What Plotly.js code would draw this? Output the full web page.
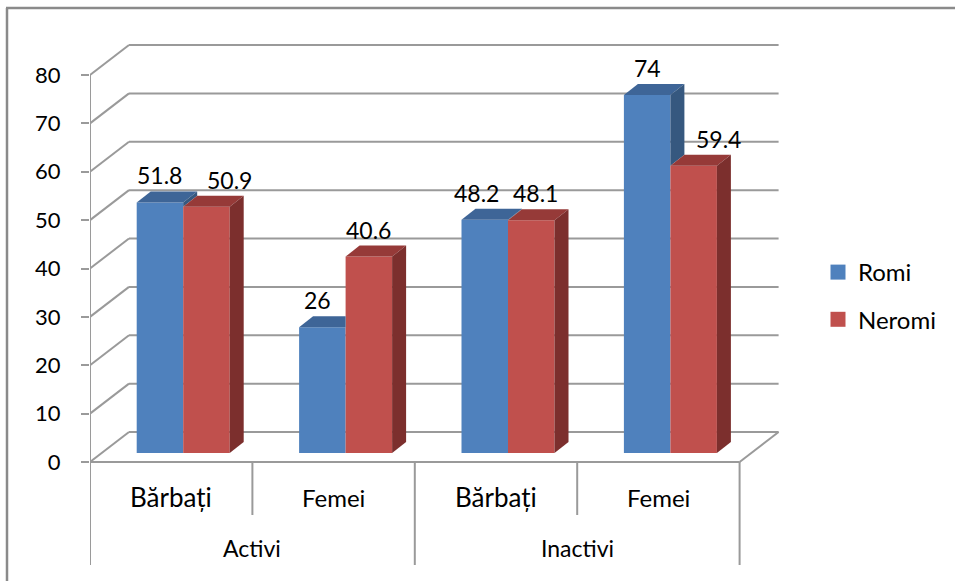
<!DOCTYPE html>
<html><head><meta charset="utf-8">
<script src="https://cdn.plot.ly/plotly-3.0.1.min.js"></script>
<style>html,body{margin:0;padding:0;background:#fff}#chart{width:955px;height:581px}</style>
</head><body><div id="chart"></div>
<script>
// ---------- DATA ----------
const groups = ['Activi', 'Inactivi'];
const subcats = ['Bărbați', 'Femei', 'Bărbați', 'Femei'];
const seriesNames = ['Romi', 'Neromi'];
const romi = [51.8, 26, 48.2, 74];
const neromi = [50.9, 40.6, 48.1, 59.4];
const yTicks = [0, 10, 20, 30, 40, 50, 60, 70, 80];

// ---------- STYLE / GEOMETRY (pixels) ----------
const W = 955, H = 581, L = 90, R = 155, T = 40, B = 0;
const PX = 162.4, PY = 4.8375, Y0 = 462;      // px per category, px per unit, zero pixel
const WALL = {dx: 39, dy: 30};                // depth of the 3D box
const PLANE = {dx: 12, dy: 9};                // where bars stand inside the box
const DEPTH = {dx: 14, dy: 11};               // depth of each bar
const BARW = 46.5;                            // bar width px
const FONT = 'Lato, "Open Sans", sans-serif';
const GRID = '#9a9a9a';
const colors = {
  front: ['#4F81BD', '#C0504D'],
  top:   ['#3e6597', '#963a38'],
  side:  ['#36587f', '#7c2f2d']
};
const labelShift = [[0, 23], [-5, 0], [-8, 4], [0, 25]];
const subcatSize = [26, 24, 26, 24];

const ux = p => p / PX, uy = p => p / PY;
const nCat = subcats.length;
const xMax = (W - L - R) / PX;
const yMin = -(H - B - Y0) / PY, yMax = (Y0 - T) / PY;
const toPaperX = px => (px - L) / (W - L - R);
const toPaperY = py => (H - B - py) / (H - T - B);

const base = uy(PLANE.dy);
const bw = ux(BARW);
const ddx = ux(DEPTH.dx), ddy = uy(DEPTH.dy);
const series = [romi, neromi];
const centers = subcats.map((_, i) => i + 0.5 + ux(PLANE.dx));

const traces = [];
// front faces as bars
series.forEach((vals, s) => {
  traces.push({
    type: 'bar', name: seriesNames[s], x: centers, y: vals, base: base,
    width: bw, offset: s === 0 ? -bw : 0,
    marker: {color: colors.front[s], line: {width: 0}},
    showlegend: false, hoverinfo: 'skip'
  });
});
// top and side faces
function poly(pts, color) {
  traces.push({
    type: 'scatter', mode: 'lines', x: pts.map(p => p[0]).concat([pts[0][0]]),
    y: pts.map(p => p[1]).concat([pts[0][1]]), fill: 'toself', fillcolor: color,
    line: {width: 0, color: color}, showlegend: false, hoverinfo: 'skip'
  });
}
for (let i = 0; i < nCat; i++) {
  const xm = centers[i];
  const bt = base + romi[i], rt = base + neromi[i];
  const bl = xm - bw, br = xm;
  if (bt >= rt) {
    poly([[bl, bt], [br, bt], [br + ddx, bt + ddy], [bl + ddx, bt + ddy]], colors.top[0]);
    poly([[br, rt], [br, bt], [br + ddx, bt + ddy], [br + ddx, rt + ddy]], colors.side[0]);
  } else {
    poly([[bl, bt], [br, bt], [br, bt + ddy], [bl + ddx, bt + ddy]], colors.top[0]);
  }
  const rl = xm, rr = xm + bw;
  poly([[rl, rt], [rr, rt], [rr + ddx, rt + ddy], [rl + ddx, rt + ddy]], colors.top[1]);
  poly([[rr, base], [rr, rt], [rr + ddx, rt + ddy], [rr + ddx, base + ddy]], colors.side[1]);
}
// legend entries
seriesNames.forEach((n, s) => {
  traces.push({
    type: 'scatter', mode: 'markers', x: [null], y: [null], name: n,
    legendgroup: 'g' + s,
    marker: {symbol: 'square', size: 15, color: colors.front[s]}
  });
});

// ---------- SHAPES ----------
const shapes = [];
const wx = ux(WALL.dx), wy = uy(WALL.dy);
const line = (x0, y0, x1, y1, color, width, xref, yref) => shapes.push({
  type: 'line', x0, y0, x1, y1, xref: xref || 'x', yref: yref || 'y', layer: 'below',
  line: {color: color || GRID, width: width || 2}
});
yTicks.forEach(v => {
  line(0, v, wx, v + wy);
  line(wx, v + wy, nCat + wx, v + wy);
});
line(0, 0, nCat, 0);
line(nCat, 0, nCat + wx, wy);
line(0, 0, 0, yTicks[yTicks.length - 1]);
for (let i = 0; i <= nCat; i++) {
  const deep = (i % 2 === 0);
  line(i, 0, i, deep ? -uy(103) : -uy(53));
}
line(toPaperX(7), toPaperY(8), toPaperX(7), toPaperY(600), '#8a8a8a', 2.5, 'paper', 'paper');
line(toPaperX(6), toPaperY(8), toPaperX(970), toPaperY(8), '#8a8a8a', 2.5, 'paper', 'paper');

// ---------- ANNOTATIONS ----------
const annotations = [];
series.forEach((vals, s) => {
  vals.forEach((v, i) => {
    annotations.push({
      x: centers[i] + (s === 0 ? -bw / 2 : bw / 2), y: base + v, xref: 'x', yref: 'y',
      text: String(v), showarrow: false, xanchor: 'center', yanchor: 'middle',
      yshift: 27, xshift: labelShift[i][s],
      font: {family: FONT, size: 23, color: '#000'}
    });
  });
});
subcats.forEach((c, i) => {
  annotations.push({
    x: i + 0.5, y: -uy(35), xref: 'x', yref: 'y', text: c, showarrow: false,
    xanchor: 'center', yanchor: 'middle', font: {family: FONT, size: subcatSize[i], color: '#000'}
  });
});
groups.forEach((g, k) => {
  annotations.push({
    x: 2 * k + 1, y: -uy(86), xref: 'x', yref: 'y', text: g, showarrow: false,
    xanchor: 'center', yanchor: 'middle', font: {family: FONT, size: 23, color: '#000'}
  });
});

const layout = {
  width: W, height: H,
  margin: {l: L, r: R, t: T, b: B, pad: 0},
  paper_bgcolor: '#fff', plot_bgcolor: 'rgba(0,0,0,0)',
  barmode: 'overlay',
  showlegend: true,
  legend: {
    x: toPaperX(818), y: toPaperY(296), xanchor: 'left', yanchor: 'middle',
    font: {family: FONT, size: 24, color: '#000'},
    traceorder: 'grouped', tracegroupgap: 13, bgcolor: 'rgba(0,0,0,0)'
  },
  xaxis: {range: [0, xMax], visible: false, fixedrange: true},
  yaxis: {
    range: [yMin, yMax], tickvals: yTicks, ticktext: yTicks.map(String),
    showgrid: false, zeroline: false, showline: false,
    ticks: 'outside', ticklen: 8, tickwidth: 2, tickcolor: GRID,
    ticklabelstandoff: 16, automargin: false, fixedrange: true,
    tickfont: {family: FONT, size: 22, color: '#000'}
  },
  shapes, annotations,
  font: {family: FONT}
};
Plotly.newPlot('chart', traces, layout, {displayModeBar: false, staticPlot: true});
</script>
</body></html>
